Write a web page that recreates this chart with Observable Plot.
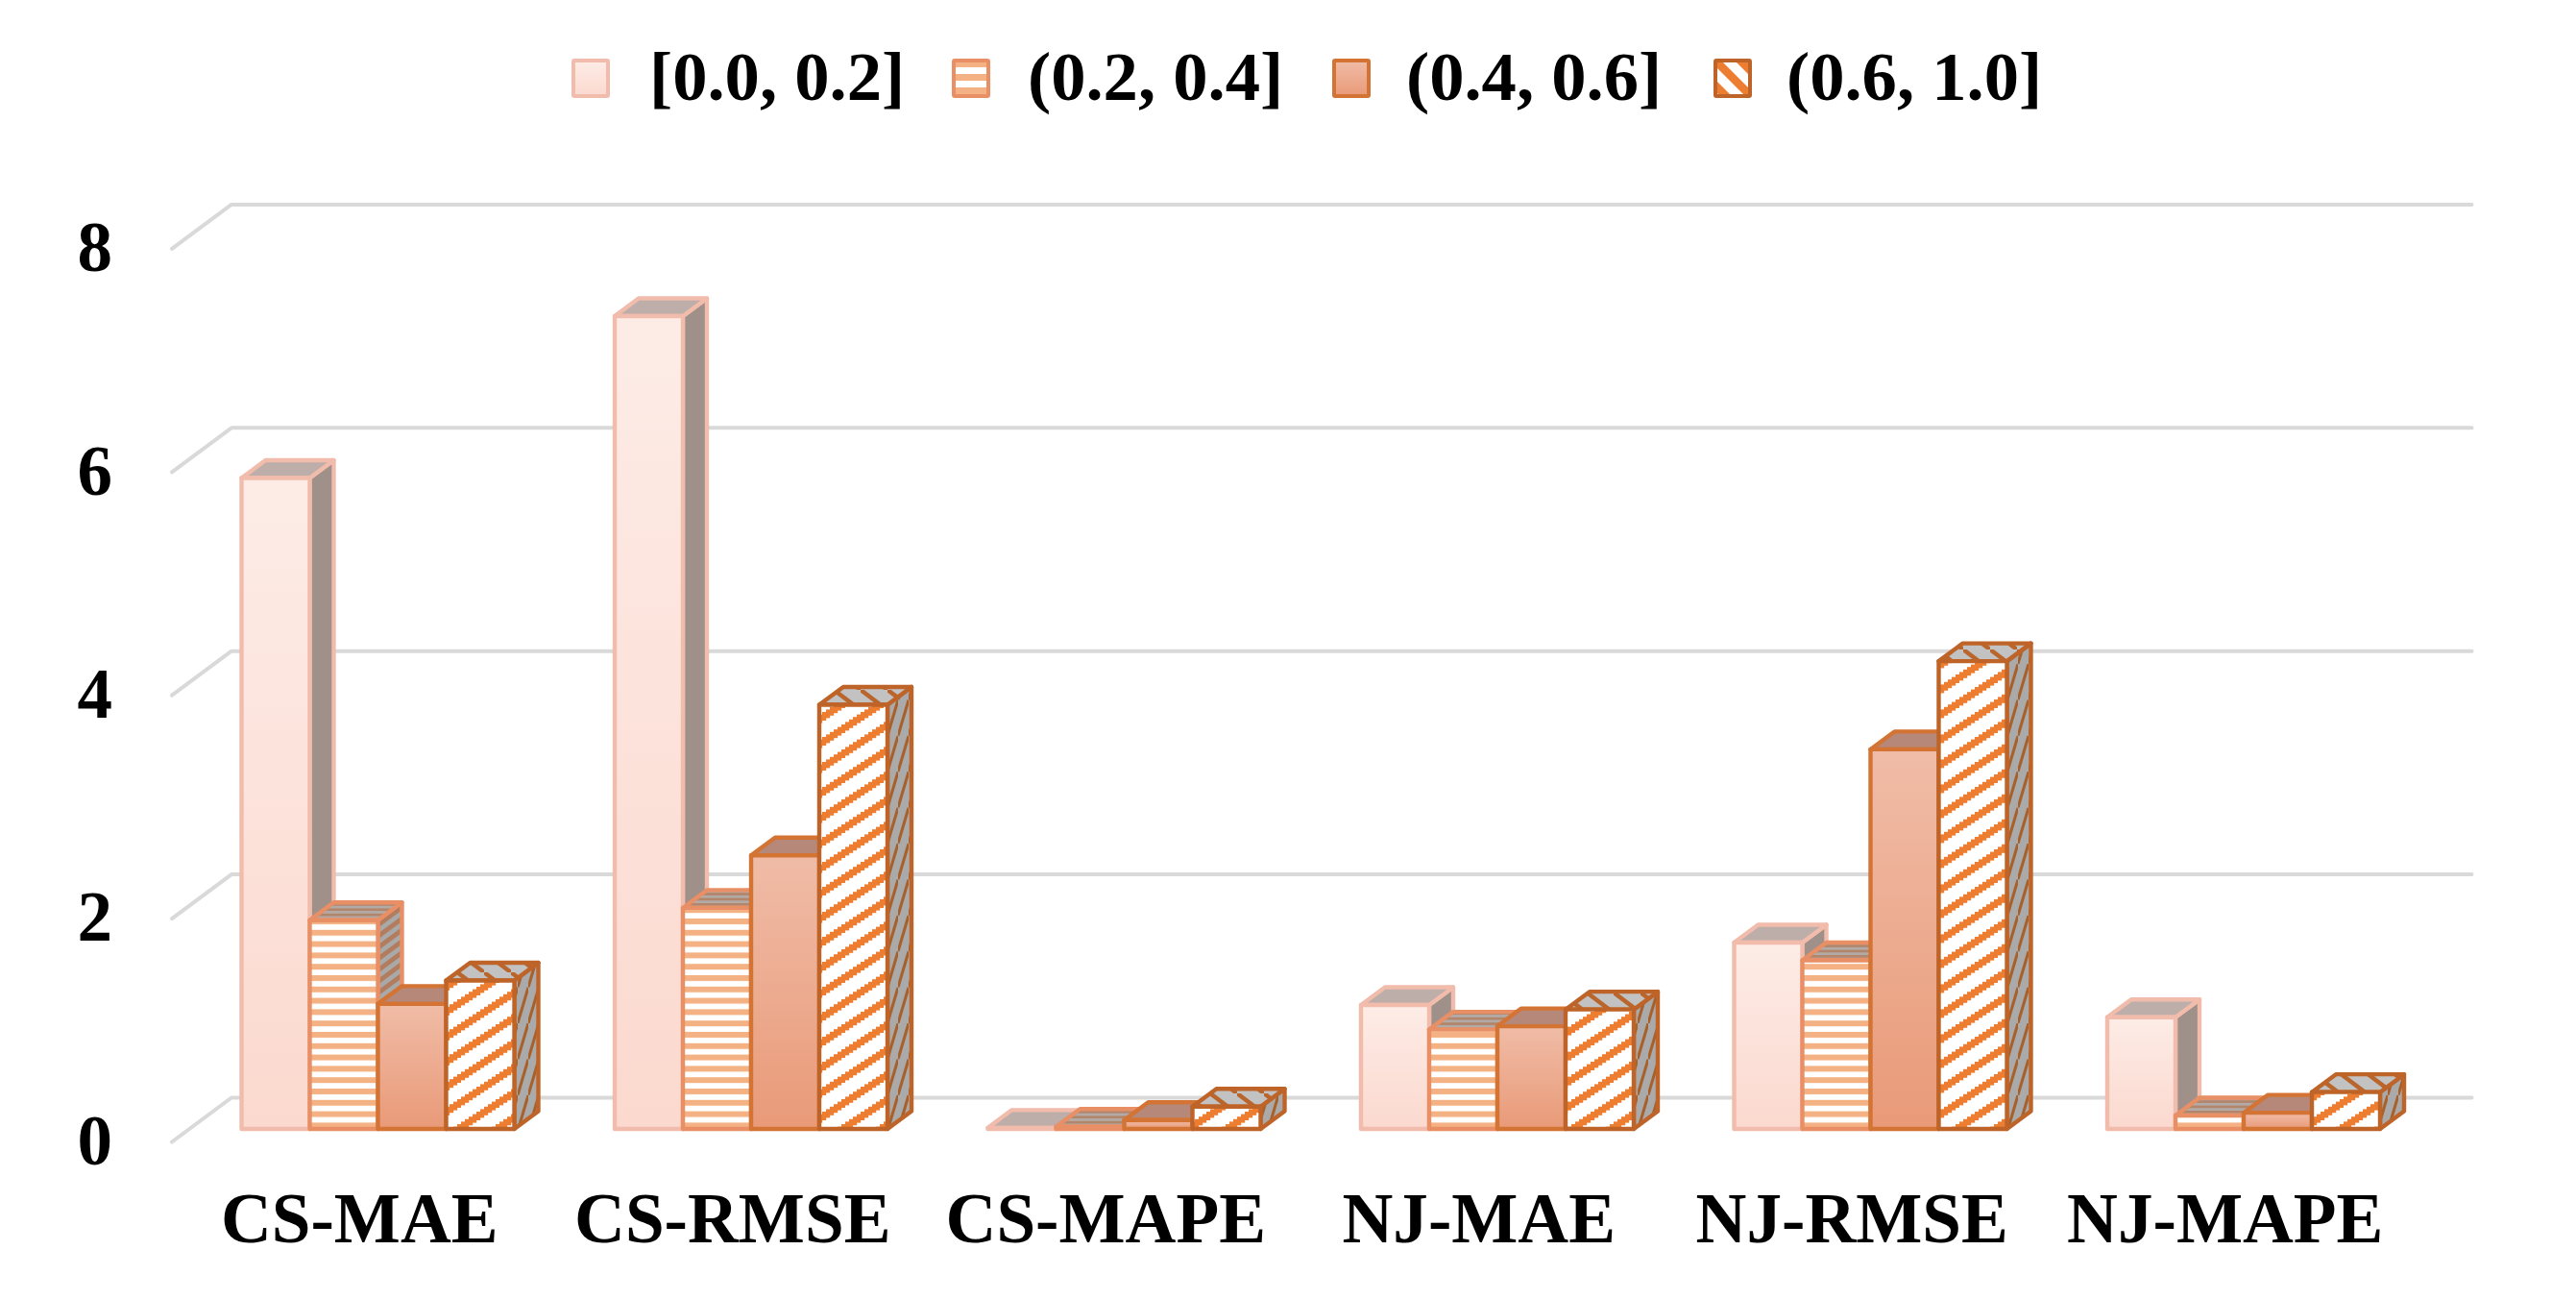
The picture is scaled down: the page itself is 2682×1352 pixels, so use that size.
<!DOCTYPE html>
<html>
<head>
<meta charset="utf-8">
<script src="https://cdn.jsdelivr.net/npm/d3@7"></script>
<script src="https://cdn.jsdelivr.net/npm/@observablehq/plot@0.6"></script>
<style>
  html, body { margin: 0; padding: 0; background: #fff; }
  #page { position: relative; width: 2682px; height: 1352px; overflow: hidden; font-family: "Liberation Serif", serif; }
  #legend { position: relative; height: 130px; width: 2682px; }
  #legend svg { position: absolute; top: 61px; }
  #legend span { position: absolute; top: 40px; font-size: 72.6px; font-weight: bold; line-height: 80px; color: #000; white-space: nowrap; }
</style>
</head>
<body>
<div id="page">
  <svg width="0" height="0" style="position:absolute" id="defs"></svg>
  <div id="legend"></div>
  <div id="chart"></div>
</div>
<script>
// ---- data ----
const categories = ["CS-MAE", "CS-RMSE", "CS-MAPE", "NJ-MAE", "NJ-RMSE", "NJ-MAPE"];
const seriesLabels = ["[0.0, 0.2]", "(0.2, 0.4]", "(0.4, 0.6]", "(0.6, 1.0]"];
const band00to02 = [5.83, 7.28, 0.01, 1.11, 1.67, 1.00];
const band02to04 = [1.87, 1.98, 0.02, 0.89, 1.51, 0.12];
const band04to06 = [1.12, 2.45, 0.08, 0.92, 3.40, 0.145];
const band06to10 = [1.33, 3.80, 0.20, 1.07, 4.19, 0.33];
const yTicks = [0, 2, 4, 6, 8];

// ---- paint servers (gradients and hatch patterns) ----
function stairs() {
  let s = '<rect width="40" height="26" fill="#fff"/>';
  for (let i = 0; i < 10; i++) {
    const y = 26 - 2.6 * (i + 1);
    for (const o of [-26, 0, 26]) s += `<rect x="${4 * i}" y="${y + o}" width="4.2" height="9" fill="#ed7d31"/>`;
  }
  return s;
}
document.getElementById("defs").innerHTML = `
<defs>
  <linearGradient id="g0" x1="0" y1="0" x2="0" y2="1"><stop offset="0" stop-color="#fdece6"/><stop offset="1" stop-color="#fbd9cf"/></linearGradient>
  <linearGradient id="g2" x1="0" y1="0" x2="0" y2="1"><stop offset="0" stop-color="#f0bca7"/><stop offset="1" stop-color="#e99a78"/></linearGradient>
  <pattern id="front1" patternUnits="userSpaceOnUse" width="12" height="11.8">
    <rect width="12" height="11.8" fill="#fff"/><rect width="12" height="6" fill="#f4b183"/>
  </pattern>
  <pattern id="front3" patternUnits="userSpaceOnUse" width="40" height="26">${stairs()}</pattern>
  <pattern id="side1" patternUnits="userSpaceOnUse" width="12" height="11.8" patternTransform="matrix(1,-0.74,0,1,0,0)">
    <rect width="12" height="11.8" fill="#a9a9a9"/><rect width="12" height="6" fill="#b17d5e"/>
  </pattern>
  <pattern id="top1" patternUnits="userSpaceOnUse" width="12" height="5.4">
    <rect width="12" height="5.4" fill="#b3aaa5"/><rect width="12" height="2.7" fill="#b1866c"/>
  </pattern>
  <pattern id="side3" patternUnits="userSpaceOnUse" width="11" height="37.4">
    <rect width="11" height="37.4" fill="#aaaaaa"/>
    <path d="M-2.75,46.75 L13.75,-9.35" stroke="#a8602a" stroke-width="3" fill="none"/>
  </pattern>
  <pattern id="top3" patternUnits="userSpaceOnUse" width="28" height="21">
    <rect width="28" height="21" fill="#c2c2c2"/>
    <path d="M-7,-5.25 L35,26.25" stroke="#b9652c" stroke-width="4.5" fill="none"/>
  </pattern>
  <pattern id="leg1" patternUnits="userSpaceOnUse" width="14" height="14" y="9">
    <rect width="14" height="14" fill="#f4b183"/><rect y="0" width="14" height="7" fill="#fff"/>
  </pattern>
  <pattern id="leg3" patternUnits="userSpaceOnUse" width="26" height="26">
    <rect width="26" height="26" fill="#fff"/>
    <path d="M-6.5,-6.5 L32.5,32.5" stroke="#ed7d31" stroke-width="8.5" fill="none"/>
    <path d="M-32.5,-6.5 L6.5,32.5 M19.5,-6.5 L58.5,32.5" stroke="#ed7d31" stroke-width="8.5" fill="none"/>
  </pattern>
</defs>`;

// ---- series styling ----
const frontFill = ["url(#g0)", "url(#front1)", "url(#g2)", "url(#front3)"];
const sideFill = ["#a0908a", "url(#side1)", "#a67b68", "url(#side3)"];
const topFill = ["#bdaeaa", "url(#top1)", "#b5887a", "url(#top3)"];
const edge = ["#f1bcab", "#e98f66", "#d37435", "#bf6429"];
const legendFill = ["url(#g0)", "url(#leg1)", "url(#g2)", "url(#leg3)"];
const edgeWidth = 4.4;

// ---- legend ----
const legend = document.getElementById("legend");
const swatchX = [595, 991, 1387, 1784];
const labelX = [676, 1070, 1464, 1860];
seriesLabels.forEach((label, i) => {
  legend.insertAdjacentHTML("beforeend",
    `<svg width="40" height="42" style="left:${swatchX[i]}px"><rect x="2" y="2" width="36" height="37" rx="1" fill="${legendFill[i]}" stroke="${edge[i]}" stroke-width="4"/></svg>` +
    `<span style="left:${labelX[i]}px">${label}</span>`);
});

// ---- table of bars ----
const allSeries = [band00to02, band02to04, band04to06, band06to10];
const unitX = 388.5;      // px per category
const unitY = 116.2;      // px per value unit
const barW = 71 / unitX, barStart = 73 / unitX;
const depthX = 25 / unitX, depthY = 18.5 / unitY;

const barsOf = (s) => categories.map((c, g) => {
  const xl = g + barStart + s * barW;
  return {key: `${c}-${s}`, xl, xr: xl + barW, v: allSeries[s][g]};
});
const sideRows = (s) => barsOf(s).flatMap(b => [
  {k: b.key, x: b.xr, y1: 0, y2: b.v},
  {k: b.key, x: b.xr + depthX, y1: depthY, y2: b.v + depthY}
]);
const topRows = (s) => barsOf(s).flatMap(b => [
  {k: b.key, y: b.v, x1: b.xl, x2: b.xr},
  {k: b.key, y: b.v + depthY, x1: b.xl + depthX, x2: b.xr + depthX}
]);

// ---- oblique floor/back-wall gridlines ----
const backDy = 33 / unitY, frontDy = -13 / unitY;
const gridBackX = 62 / unitX, gridEndX = 2394.5 / unitX;
const gridRows = yTicks.flatMap(v => [
  {v, x: 0, y: v + frontDy},
  {v, x: gridBackX, y: v + backDy},
  {v, x: gridEndX, y: v + backDy}
]);

const edgeOpts = (s) => ({stroke: edge[s], strokeWidth: edgeWidth, strokeLinejoin: "round"});

const marks = [
  Plot.line(gridRows, {x: "x", y: "y", z: "v", stroke: "#d9d9d9", strokeWidth: 4, strokeLinecap: "round", strokeLinejoin: "round"}),
  Plot.axisY({ticks: yTicks, tickSize: 0, tickPadding: 62, dy: 13, fontSize: 73, fontWeight: "bold", label: null, fill: "#000"}),
  Plot.axisX({ticks: categories.map((c, g) => g + 0.5), tickFormat: d => categories[Math.floor(d)], tickSize: 0, tickPadding: 66, dx: 1, fontSize: 73.2, fontWeight: "bold", label: null, fill: "#000"})
];
allSeries.forEach((_, s) => {
  marks.push(
    Plot.areaY(sideRows(s), {x: "x", y1: "y1", y2: "y2", z: "k", fill: sideFill[s], ...edgeOpts(s)}),
    Plot.areaX(topRows(s), {y: "y", x1: "x1", x2: "x2", z: "k", fill: topFill[s], ...edgeOpts(s)}),
    Plot.rect(barsOf(s), {x1: "xl", x2: "xr", y1: 0, y2: "v", fill: frontFill[s], ...edgeOpts(s)})
  );
});

const chart = Plot.plot({
  width: 2682,
  height: 1222,
  marginLeft: 178.5,
  marginRight: 172.5,
  marginTop: 115.4,
  marginBottom: 177,
  x: {domain: [0, 6], axis: null},
  y: {domain: [0, 8], axis: null},
  style: {fontFamily: "'Liberation Serif', serif", background: "#fff", overflow: "visible"},
  marks
});
document.getElementById("chart").appendChild(chart);
</script>
</body>
</html>
